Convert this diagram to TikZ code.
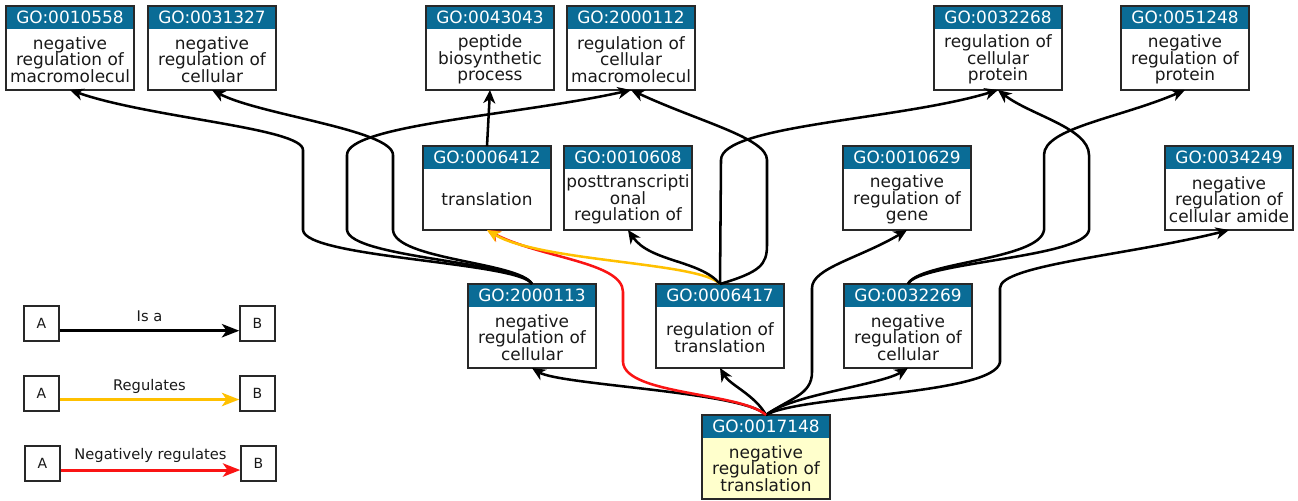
\documentclass[tikz,border=0pt]{standalone}
\usepackage{fontspec}
\setmainfont{DejaVu Sans}
\usetikzlibrary{arrows.meta,calc}
\definecolor{goblue}{RGB}{10,108,150}
\definecolor{boxline}{RGB}{40,40,40}
\definecolor{txt}{RGB}{25,25,25}
\definecolor{regyellow}{RGB}{255,192,0}
\definecolor{negred}{RGB}{250,20,20}
\definecolor{termfill}{RGB}{255,255,204}
\newcommand\gofont{\fontsize{12.7}{12.4}\selectfont}
\tikzset{
 gobox/.style={draw=boxline, line width=1pt, minimum width=96pt, minimum height=63pt, anchor=north west, inner sep=0pt, outer sep=0pt},
 gohead/.style={fill=goblue, text=white, minimum width=96pt, minimum height=17.25pt, anchor=north west, inner sep=0pt, outer sep=0pt, font=\gofont},
 gotext/.style={align=center, text=txt, font=\gofont, inner sep=0pt},
 edge/.style={line width=1.9pt, -{Stealth[length=10pt,width=9pt,inset=3pt]}, line join=round},
 isa/.style={edge, draw=black},
 regul/.style={edge, draw=regyellow},
 negreg/.style={edge, draw=negred},
 legbox/.style={draw=boxline, line width=1.1pt, fill=white, minimum size=26.25pt, inner sep=0pt, font=\fontsize{10.5}{12}\selectfont, text=txt},
 leglabel/.style={font=\fontsize{11}{13}\selectfont, text=txt, inner sep=0pt},
 legedge/.style={line width=2.3pt, -{Stealth[length=13pt,width=10pt,inset=3.5pt]}},
}
\newcommand\gonode[6][white]{%
 \node[gobox, fill=#1] (#2) at (#3,#4) {};
 \node[gohead] (#2h) at (#2.north west) {#5};
 \node[gotext] (#2t) at ($(#2.center)+(0,11.5)$) {#6};
 \draw[boxline, line width=1pt] (#2.north west) rectangle (#2.south east);
}
\begin{document}
\begin{tikzpicture}[x=0.75pt,y=-0.75pt]
\useasboundingbox (0,0) rectangle (1298,500);
% top row
\gonode{n0010558}{6}{6}{GO:0010558}{negative\\regulation of\\macromolecul}
\gonode{n0031327}{148}{6}{GO:0031327}{negative\\regulation of\\cellular}
\gonode{n0043043}{426}{6}{GO:0043043}{peptide\\biosynthetic\\process}
\gonode{n2000112}{567}{6}{GO:2000112}{regulation of\\cellular\\macromolecul}
\gonode{n0032268}{934}{6}{GO:0032268}{regulation of\\cellular\\protein}
\gonode{n0051248}{1121}{6}{GO:0051248}{negative\\regulation of\\protein}
% second row
\gonode{n0006412}{423}{146}{GO:0006412}{translation}
\gonode{n0010608}{564}{146}{GO:0010608}{posttranscripti\\onal\\regulation of}
\gonode{n0010629}{843}{146}{GO:0010629}{negative\\regulation of\\gene}
\gonode{n0034249}{1165}{146}{GO:0034249}{negative\\regulation of\\cellular amide}
% third row
\gonode{n2000113}{468}{284}{GO:2000113}{negative\\regulation of\\cellular}
\gonode{n0006417}{656}{284}{GO:0006417}{regulation of\\translation}
\gonode{n0032269}{844}{284}{GO:0032269}{negative\\regulation of\\cellular}
% term
\gonode[termfill]{n0017148}{702}{415}{GO:0017148}{negative\\regulation of\\translation}

% edges from GO:0017148
\draw[isa] (n0017148.north) .. controls (745,392) and (560,385) .. (n2000113.south);
\draw[isa] (n0017148.north) .. controls (755,395) and (730,385) .. (n0006417.south);
\draw[isa] (n0017148.north) .. controls (790,395) and (880,385) .. (n0032269.south);
\draw[isa] (n0017148.north) .. controls (790,398) and (812,395) .. (812,372) -- (812,288) .. controls (812,268) and (860,258) .. (n0010629.south);
\draw[isa] (n0017148.north) .. controls (800,395) and (995,395) .. (1000,362) -- (1000,288) .. controls (1000,265) and (1130,255) .. (n0034249.south);
\draw[negreg] (n0017148.north) .. controls (740,392) and (625,395) .. (623,362) -- (623,292) .. controls (623,262) and (540,258) .. (n0006412.south);
% edges from GO:0006417
\draw[regul] (n0006417.north) .. controls (700,262) and (540,262) .. (n0006412.south);
\draw[isa] (n0006417.north) .. controls (700,260) and (650,262) .. (n0010608.south);
\draw[isa] (n0006417.north) .. controls (760,272) and (767,265) .. (767,245) -- (767,160) .. controls (767,138) and (700,122) .. (n2000112.south);
\draw[isa] (n0006417.north) -- (721,160) .. controls (721,125) and (900,120) .. (n0032268.south);
% edges from GO:2000113
\draw[isa] (n2000113.north) .. controls (520,262) and (305,258) .. (303,230) -- (303,150) .. controls (303,128) and (150,118) .. (n0010558.south);
\draw[isa] (n2000113.north) .. controls (520,262) and (395,260) .. (393,230) -- (393,155) .. controls (393,130) and (260,115) .. (n0031327.south);
\draw[isa] (n2000113.north) .. controls (520,262) and (350,258) .. (347,230) -- (347,155) .. controls (347,125) and (520,115) .. (n2000112.south);
% edges from GO:0032269
\draw[isa] (n0032269.north) .. controls (918,262) and (1085,258) .. (1089,230) -- (1089,155) .. controls (1089,128) and (1030,115) .. (n0032268.south);
\draw[isa] (n0032269.north) .. controls (918,262) and (1040,260) .. (1044,230) -- (1044,155) .. controls (1044,128) and (1120,118) .. (n0051248.south);
% edge from GO:0006412
\draw[isa] (n0006412.north) -- (n0043043.south);

% legend
\node[legbox] (la1) at (41.5,323.5) {A};
\node[legbox] (lb1) at (257.5,323.5) {B};
\node[legbox] (la2) at (41.5,393.5) {A};
\node[legbox] (lb2) at (257.5,393.5) {B};
\node[legbox] (la3) at (42.5,463.5) {A};
\node[legbox] (lb3) at (258.5,463.5) {B};
\draw[legedge, draw=black] ([yshift=-5.4pt]la1.east) -- ([yshift=-5.4pt]lb1.west) node[midway, yshift=11pt, leglabel] {Is a};
\draw[legedge, draw=regyellow] ([yshift=-4.5pt]la2.east) -- ([yshift=-4.5pt]lb2.west) node[midway, yshift=10pt, leglabel] {Regulates};
\draw[legedge, draw=negred] ([yshift=-4.9pt]la3.east) -- ([yshift=-4.9pt]lb3.west) node[midway, yshift=11pt, leglabel] {Negatively regulates};
\end{tikzpicture}
\end{document}
